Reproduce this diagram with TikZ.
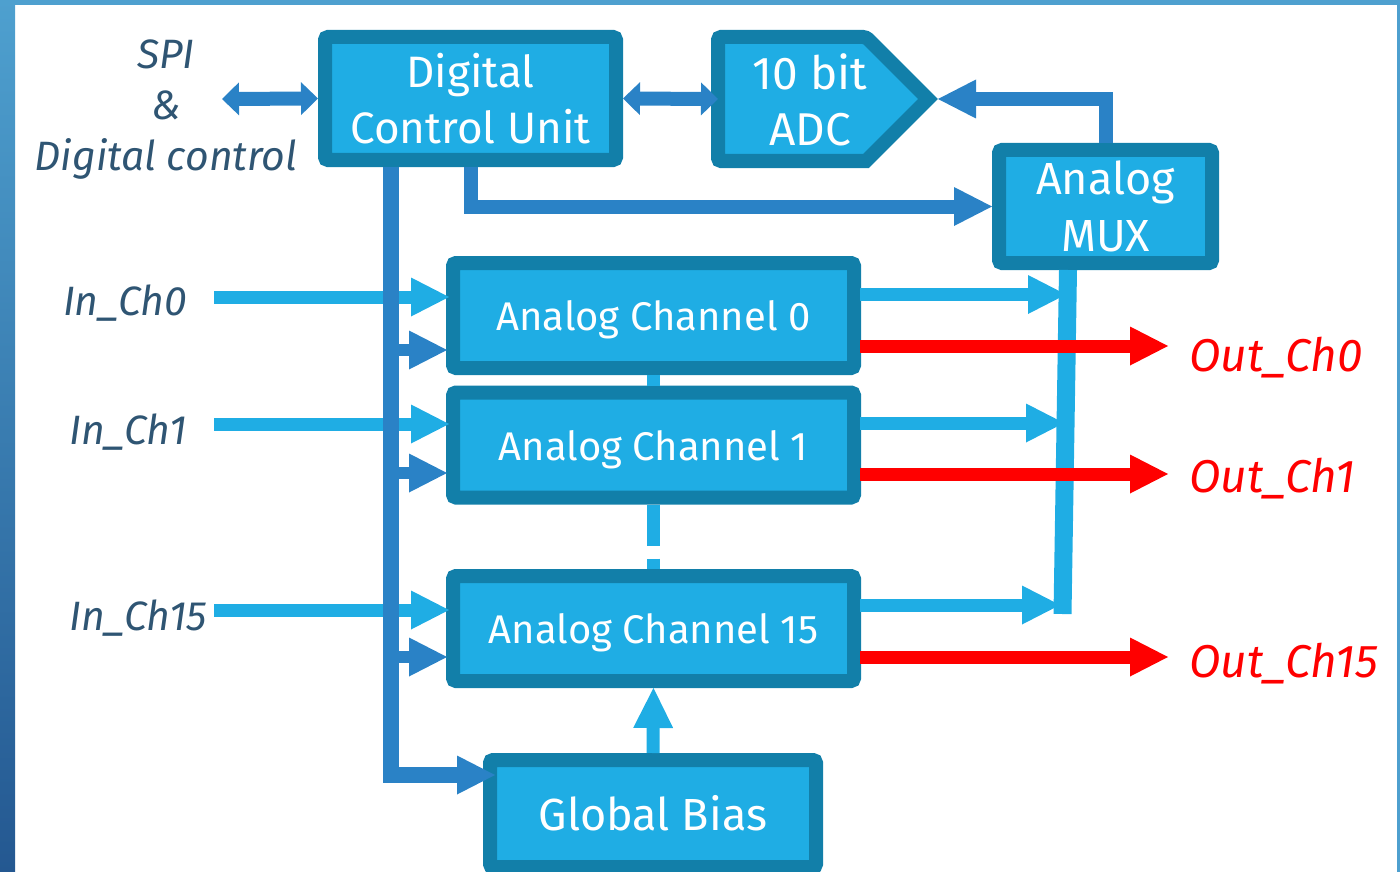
\documentclass[tikz,border=0pt]{standalone}
\usepackage{fontspec}
\setmainfont{Fira Sans}
\usetikzlibrary{arrows.meta,calc}

\definecolor{boxfill}{RGB}{31,173,228}
\definecolor{boxedge}{RGB}{18,127,169}
\definecolor{ctrlblue}{RGB}{42,130,198}
\definecolor{sigblue}{RGB}{31,173,228}
\definecolor{labelgray}{RGB}{47,85,115}
\definecolor{frametop}{RGB}{78,160,207}
\definecolor{framebot}{RGB}{36,88,145}

\begin{document}
\begin{tikzpicture}[x=1pt,y=-1pt,
    block/.style={draw=boxedge, fill=boxfill, line width=14pt, rounded corners=3pt,
                  text=white, align=center, inner sep=0pt},
    ctrl/.style={draw=ctrlblue, line width=14pt},
    sig/.style={draw=sigblue, line width=13pt},
    outsig/.style={draw=red, line width=13pt},
    head/.style={-{Triangle[length=38pt,width=39pt,line width=0pt]}},
    dhead/.style={{Triangle[length=17pt,width=33pt,line width=0pt]}-{Triangle[length=17pt,width=33pt,line width=0pt]}},
    lbl/.style={text=labelgray, font=\itshape\fontsize{41}{51}\selectfont, align=center, inner sep=0pt},
  ]
    \useasboundingbox (0,0) rectangle (1400,872);

    % Frame
    \shade[top color=frametop, bottom color=framebot] (0,0) rectangle (15,872);
    \fill[frametop] (0,0) rectangle (1400,5);
    \fill[frametop] (1397,0) rectangle (1400,872);

    % Blocks
    \node[block, minimum width=291pt, minimum height=123pt, font=\fontsize{44}{56}\selectfont]
        (dcu) at (470.5,98.5) {Digital\\Control Unit};
    \node[block, minimum width=213pt, minimum height=113pt, font=\fontsize{45}{57}\selectfont]
        (mux) at (1105.5,206.5) {Analog\\MUX};
    \foreach \n/\y in {0/315.5, 1/445, 15/628.5}
        \node[block, minimum width=401pt, minimum height=105pt, text depth=0pt,
              font=\fontsize{40}{46}\selectfont]
            (ch\n) at (653.5,\y) {Analog Channel \n};
    \node[block, minimum width=326pt, minimum height=107pt, font=\fontsize{45}{56}\selectfont]
        (gb) at (653,813.5) {Global Bias};

    % ADC
    \draw[draw=boxedge, fill=boxfill, line width=14pt, rounded corners=3pt]
        (718,37) -- (866,37) [sharp corners] -- (928,99) -- (866,161)
        [rounded corners=3pt] -- (718,161) -- cycle;
    \node[text=white, align=center, font=\fontsize{46}{56}\selectfont] (adc) at (810,100) {10 bit\\ADC};
    \coordinate (adcin) at (718,99);
    \coordinate (adctip) at (938,99);

    % Labels
    \node[lbl] (spi) at (166,110) {SPI\\\&\\Digital control};
    \node[lbl] (in0) at (125,303) {In\_Ch0};
    \node[lbl] (in1) at (128,432) {In\_Ch1};
    \node[lbl] (in15) at (138,618) {In\_Ch15};
    \foreach \n/\y in {0/358, 1/479, 15/664}
        \node[lbl, text=red, anchor=west, font=\itshape\fontsize{46}{51}\selectfont]
            (out\n) at (1189,\y) {Out\_Ch\n};

    % Control paths
    \coordinate (spiport) at (222,99);
    \draw[ctrl, dhead] (spiport) -- (dcu.west);
    \draw[ctrl, dhead] (dcu.east) -- (adcin);
    \draw[ctrl, head] (mux.north) |- (adctip);
    \draw[ctrl, head] (dcu.south) |- (mux.west);

    % Analog inputs
    \foreach \n/\a in {0/-18.5, 1/-21, 15/-18.5}
        \draw[sig, head] ($(ch\n.west)+(-232,\a)$) -- ($(ch\n.west)+(3,\a)$);

    % Control bus
    \coordinate (busend) at (391,775);
    \draw[ctrl, line width=16pt, head] (dcu.south -| busend) -- (busend) -- ([xshift=12pt]busend -| gb.west);
    \foreach \n/\b in {0/34.5, 1/28, 15/28.5}
        \draw[ctrl, line width=12pt, head] ($(ch\n.west)+(-62,\b)$) -- ($(ch\n.west)+(1,\b)$);

    % Channel chain and bias
    \draw[sig] (ch0.south) -- (ch1.north);
    \draw[sig, dash pattern=on 41pt off 13pt] (ch1.south) -- (ch15.north);
    \draw[sig, -{Triangle[length=40pt,width=40pt,line width=0pt]}] (gb.north) -- (ch15.south);

    % MUX inputs
    \draw[sig, line width=18pt] ($(mux.south)+(-37.5,0)$) -- ($(mux.south)+(-43,344)$);
    \foreach \n/\c/\l in {0/-21/206, 1/-22/204, 15/-23.5/200}
        \draw[sig, head] ($(ch\n.east)+(-1,\c)$) -- ++(\l,0);

    % Outputs
    \foreach \n/\d in {0/30.5, 1/29, 15/28.5}
        \draw[outsig, head] ($(ch\n.east)+(-1,\d)$) -- ++(308,0);
\end{tikzpicture}
\end{document}
